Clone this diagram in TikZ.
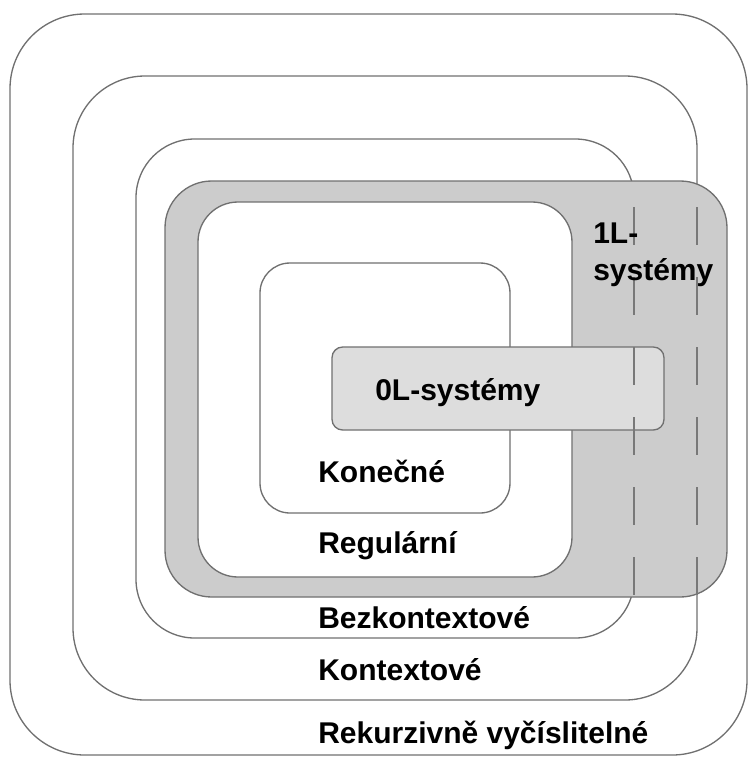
\documentclass[tikz,border=0pt]{standalone}
\usepackage{fontspec}
\setmainfont{Liberation Sans}
\begin{document}
\begin{tikzpicture}[x=0.75pt,y=0.75pt,yscale=-1,xscale=1,
  set/.style={draw={rgb,255:red,112;green,112;blue,112},line width=1pt},
  sep/.style={draw={rgb,255:red,120;green,120;blue,120},line width=0.9pt,dash pattern={on 28.5pt off 24pt}},
  lbl/.style={inner sep=0pt,font=\fontsize{22.5}{27.75}\selectfont\bfseries}]
\useasboundingbox (0,0) rectangle (748,758);

%Rounded Rect: Rekurzivne vycislitelne
\draw [set,rounded corners=56pt] (10,14) rectangle (747,755) ;
%Rounded Rect: Kontextove
\draw [set,rounded corners=54pt] (73,76) rectangle (697,700) ;
%Rounded Rect: Bezkontextove
\draw [set,rounded corners=44pt] (136,139) rectangle (634,638) ;
%Rounded Rect: 1L-systemy
\draw [set,fill={rgb,255:red,204;green,204;blue,204},rounded corners=35pt] (165,181) rectangle (727,597) ;
%Rounded Rect: Regularni
\draw [set,fill=white,rounded corners=30pt] (198,202) rectangle (572,577) ;
%Rounded Rect: Konecne
\draw [set,rounded corners=22.5pt] (260,263) rectangle (510,513) ;
%Rounded Rect: 0L-systemy
\draw [set,fill={rgb,255:red,221;green,221;blue,221},rounded corners=8pt] (332,347) rectangle (664,430) ;

%Hidden borders under 1L-systemy
\coordinate (bzTop) at (634,207);
\coordinate (bzBot) at (634,597);
\coordinate (ktTop) at (697,207);
\coordinate (ktBot) at (697,597);
\draw [sep] (bzTop) -- (bzBot) ;
\draw [sep] (ktTop) -- (ktBot) ;

% Text Node
\node (konecne) [lbl,anchor=base west] at (318,482) {Konečné};
% Text Node
\node (regularni) [lbl,anchor=base west] at (318,553) {Regulární};
% Text Node
\node (bezkont) [lbl,anchor=base west] at (318,628) {Bezkontextové};
% Text Node
\node (kont) [lbl,anchor=base west] at (318,680) {Kontextové};
% Text Node
\node (rekurz) [lbl,anchor=base west] at (318,743) {Rekurzivně vyčíslitelné};
% Text Node
\node (nulaL) [lbl,anchor=base west] at (375,400) {0L-systémy};
% Text Node
\node (jednaL) [lbl,anchor=base west,align=left] at (593,280) {1L-\\systémy};

\end{tikzpicture}
\end{document}
